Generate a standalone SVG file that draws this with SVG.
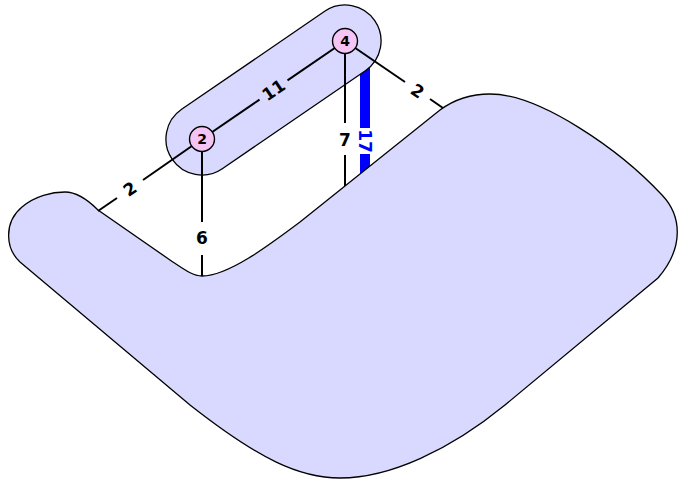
<svg xmlns="http://www.w3.org/2000/svg" width="678" height="479" viewBox="0 0 678 479">
<style>
.blob{fill:#d9d9ff;stroke:#000;stroke-width:1.3}
.edge{stroke:#000;stroke-width:2;fill:none}
.node circle{fill:#f4c4f4;stroke:#000;stroke-width:1.4}
.nl{font-family:"DejaVu Sans",sans-serif;font-size:14px;font-weight:bold;text-anchor:middle;dominant-baseline:central}
.el{font-family:"DejaVu Sans",sans-serif;font-size:17px;font-weight:bold;text-anchor:middle;dominant-baseline:central}
</style>
<rect width="678" height="479" fill="#fff"/>
<g id="blue-edge">
<line x1="365" y1="50" x2="365" y2="128" stroke="#0000ff" stroke-width="10"/>
<line x1="365" y1="154" x2="365" y2="190" stroke="#0000ff" stroke-width="10"/>
</g>
<g id="hull-big">
<path class="blob" d="M65,192 C77,192 88,200 98,210 L170,260 C185,270 193,276 202,276 C228,276 268,246 300,222 L440,110 C455,99 470,94 490,94 C540,94 620,150 662,195 C682,216 684,248 658,278 L505,405 C450,450 390,478 340,478 C300,478 260,460 190,405 L20,262 C5,248 4,222 22,207 C35,196 52,192 65,192 Z"/>
</g>
<g id="hull-small">
<rect class="blob" x="150.8" y="54" width="245.4" height="72" rx="36" ry="36" transform="rotate(-34.4 273.5 90)"/>
</g>
<g id="connectors">
<line class="edge" x1="202" y1="139" x2="259.5" y2="99.6"/>
<line class="edge" x1="287.5" y1="80.4" x2="345" y2="41"/>
<line class="edge" x1="202" y1="139" x2="143" y2="180"/>
<line class="edge" x1="117" y1="198" x2="98" y2="211"/>
<line class="edge" x1="202" y1="139" x2="202" y2="222"/>
<line class="edge" x1="202" y1="255" x2="202" y2="276"/>
<line class="edge" x1="345" y1="41" x2="345" y2="123"/>
<line class="edge" x1="345" y1="155" x2="345" y2="186"/>
<line class="edge" x1="345" y1="41" x2="405" y2="82"/>
<line class="edge" x1="430" y1="99" x2="443" y2="108"/>
<text class="el" transform="translate(273.5 90) rotate(-34.4)">11</text>
<text class="el" transform="translate(130 189) rotate(-34.6)">2</text>
<text class="el" x="202" y="238">6</text>
<text class="el" x="345" y="140">7</text>
<text class="el" transform="translate(417.5 91) rotate(33.8)">2</text>
<text class="el" transform="translate(365 141) rotate(90)" fill="#0000ff">17</text>
</g>
<g id="node-2" class="node">
<circle cx="202" cy="139" r="12.5"/>
<text class="nl" x="202" y="139">2</text>
</g>
<g id="node-4" class="node">
<circle cx="345" cy="41" r="12.5"/>
<text class="nl" x="345" y="41">4</text>
</g>
</svg>
